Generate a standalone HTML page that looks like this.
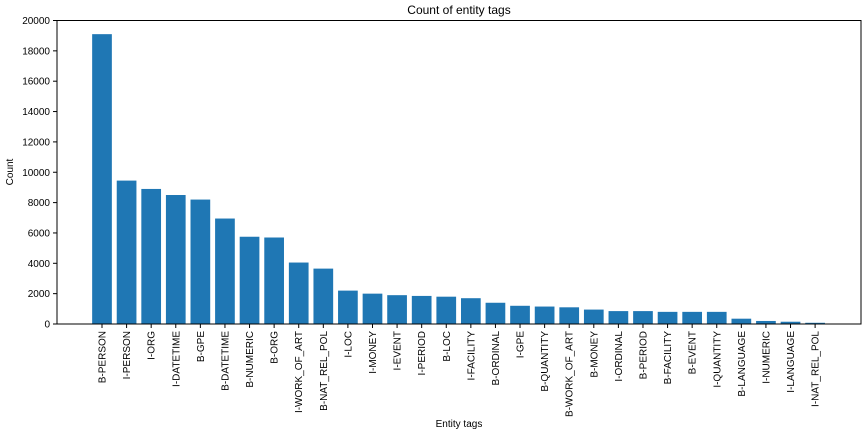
<!DOCTYPE html>
<html><head><meta charset="utf-8"><style>
body{margin:0;background:#fff;}
svg{display:block;font-family:"Liberation Sans","DejaVu Sans",sans-serif;}
</style></head><body>
<svg id="chart" width="864" height="432">
<rect x="0" y="0" width="864" height="432" fill="#fff"/>
<text x="459" y="14" font-size="12" text-anchor="middle">Count of entity tags</text>
<text x="459" y="427" font-size="10" text-anchor="middle">Entity tags</text>
<text transform="translate(13,172) rotate(-90)" font-size="10" text-anchor="middle">Count</text>
<g id="bars"></g><g id="ticks"></g>
<rect x="57" y="20.5" width="804" height="303.5" fill="none" stroke="#000" stroke-width="1"/>
</svg>
<script>
const categories=["B-PERSON","I-PERSON","I-ORG","I-DATETIME","B-GPE","B-DATETIME","B-NUMERIC","B-ORG","I-WORK_OF_ART","B-NAT_REL_POL","I-LOC","I-MONEY","I-EVENT","I-PERIOD","B-LOC","I-FACILITY","B-ORDINAL","I-GPE","B-QUANTITY","B-WORK_OF_ART","B-MONEY","I-ORDINAL","B-PERIOD","B-FACILITY","B-EVENT","I-QUANTITY","B-LANGUAGE","I-NUMERIC","I-LANGUAGE","I-NAT_REL_POL"];
const counts=[19100,9450,8900,8500,8200,6950,5750,5700,4050,3650,2200,2000,1900,1850,1800,1700,1400,1200,1150,1100,950,850,850,800,800,800,350,200,150,80];
const yTicks=[0,2000,4000,6000,8000,10000,12000,14000,16000,18000,20000];
const NS="http://www.w3.org/2000/svg";
const step=24.59, x0=102, barW=19.7;
function xs(i){return x0+i*step;}
function ys(v){return 324-v*303.5/20000;}
const bars=document.getElementById('bars'), ticks=document.getElementById('ticks');
categories.forEach((c,i)=>{
 const r=document.createElementNS(NS,'rect');
 r.setAttribute('x',xs(i)-barW/2);r.setAttribute('y',ys(counts[i]));
 r.setAttribute('width',barW);r.setAttribute('height',ys(0)-ys(counts[i]));
 r.setAttribute('fill','#1f77b4');
 
 
 bars.appendChild(r);
 const t=document.createElementNS(NS,'line');
 t.setAttribute('x1',xs(i));t.setAttribute('x2',xs(i));t.setAttribute('y1',324);t.setAttribute('y2',328);t.setAttribute('stroke','#000');
 ticks.appendChild(t);
 const l=document.createElementNS(NS,'text');
 l.setAttribute('transform','translate('+(xs(i)+3.5)+',331) rotate(-90)');
 l.setAttribute('font-size','10');l.setAttribute('text-anchor','end');
 l.textContent=c;
 
 
 ticks.appendChild(l);
});
yTicks.forEach(v=>{
 const t=document.createElementNS(NS,'line');
 t.setAttribute('x1',53);t.setAttribute('x2',57);t.setAttribute('y1',ys(v));t.setAttribute('y2',ys(v));t.setAttribute('stroke','#000');
 ticks.appendChild(t);
 const l=document.createElementNS(NS,'text');
 l.setAttribute('x',50);l.setAttribute('y',ys(v)+3.5);
 l.setAttribute('font-size','10');l.setAttribute('text-anchor','end');
 l.textContent=v;
 
 
 ticks.appendChild(l);
});
</script>
</body></html>
